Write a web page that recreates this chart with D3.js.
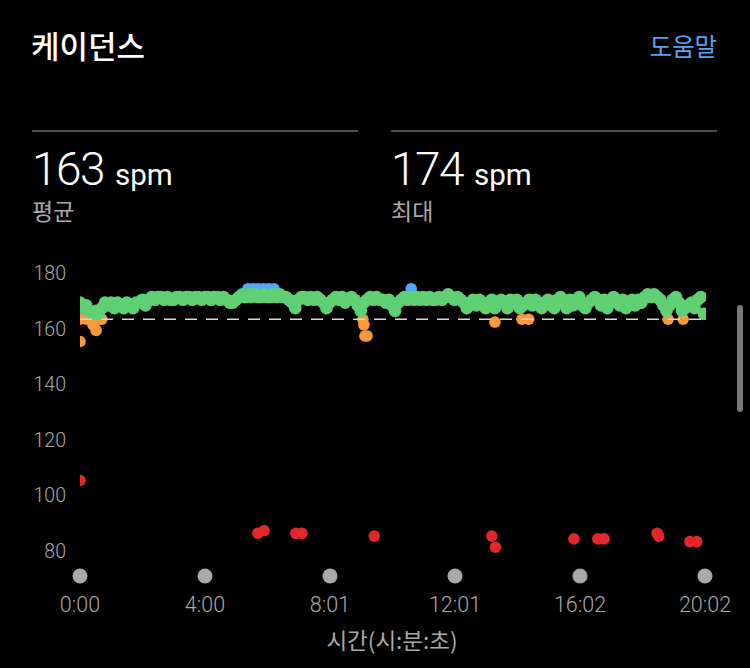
<!DOCTYPE html>
<html>
<head>
<meta charset="utf-8">
<script src="https://cdn.jsdelivr.net/npm/d3@7"></script>
<style>
  html, body { margin: 0; padding: 0; background: #000; }
  svg { display: block; }
</style>
</head>
<body>
<div id="chart"></div>
<script>
// cadence run, one reading every 6 s (0:00 .. 20:00)
var SAMPLE_SEC = 6
var cadence = [
  169,167,168,166,165,166,165,167,169,168,
  169,167,169,168,167,169,168,167,169,169,
  170,168,170,171,170,171,171,170,171,170,
  170,171,171,170,171,171,170,171,171,170,
  171,171,170,171,171,170,171,170,169,169,
  170,171,172,171,172,171,172,171,171,172,
  171,171,172,171,172,171,171,170,169,167,
  170,171,171,170,171,170,171,170,169,167,
  169,170,171,170,171,169,170,171,170,168,
  166,169,170,171,170,171,170,170,169,170,
  168,166,169,170,171,170,171,170,171,170,
  171,170,171,170,170,171,170,171,172,171,
  170,171,170,169,167,169,170,168,170,169,
  167,169,170,167,169,170,169,167,170,169,
  170,167,168,169,170,168,170,169,167,169,
  170,168,167,170,171,169,167,170,168,170,
  171,168,167,169,170,171,170,168,170,167,
  169,171,170,168,170,167,169,170,168,170,
  169,171,172,171,172,171,170,168,166,168,
  170,171,169,166,167,168,169,167,170,171,
  165
]

// readings off the main band: [seconds, spm]
var offBand = [
  [0, 105], [342, 86], [354, 87], [415, 86], [427, 86], [566, 85],
  [792, 85], [799, 81], [950, 84], [996, 84], [1008, 84],
  [1110, 86], [1113, 85], [1173, 83], [1186, 83],
  [0, 163], [0, 155], [12, 163], [25, 161], [31, 159], [29, 162], [42, 163],
  [544, 163], [546, 161], [548, 157], [552, 157], [798, 162],
  [850, 163], [863, 163], [1131, 163], [1160, 163],
  [323, 174], [333, 174], [343, 174], [353, 174], [363, 174], [373, 174], [637, 174]
]

var avgSpm = 163
var maxSpm = 174
var durationSec = 1202

var yTicks = [80, 100, 120, 140, 160, 180]
var xTickSec = [0, 240.4, 480.8, 721.2, 961.6, 1202]
var xTickLabels = ['0:00', '4:00', '8:01', '12:01', '16:02', '20:02']

// garmin cadence zones
var zoneStarts = [153, 164, 174]
var zoneColors = ['#e3262c', '#f99a3a', '#5fd074', '#53a7f6']

var W = 750, H = 668
var svg = d3.select('#chart').append('svg').attr('width', W).attr('height', H)
svg.append('rect').attr('width', W).attr('height', H).attr('fill', '#000')

var kr = '"Noto Sans CJK KR", "Noto Sans", sans-serif'
var num = 'Roboto, "Noto Sans", sans-serif'
var grey = '#a9a9a9'

// header
svg.append('text').attr('x', 31).attr('y', 58).text('케이던스')
  .attr('fill', '#fff').style('font-family', kr).style('font-size', '31px').style('font-weight', 500)
svg.append('text').attr('x', 717).attr('y', 56).attr('text-anchor', 'end').text('도움말')
  .attr('fill', '#5da2ea').style('font-family', kr).style('font-size', '24.5px')

// stat blocks
var stats = [
  {x: 32, value: avgSpm, label: '평균'},
  {x: 391, value: maxSpm, label: '최대'}
]
stats.forEach(function(s){
  svg.append('line').attr('x1', s.x).attr('x2', s.x + 326).attr('y1', 131).attr('y2', 131)
    .attr('stroke', '#4d4d4d').attr('stroke-width', 2)
  var t = svg.append('text').attr('x', s.x).attr('y', 185).attr('fill', '#fff').style('font-family', num)
  t.append('tspan').text(s.value).style('font-size', '46px').style('font-weight', 300).style('letter-spacing', '-1.5px')
  t.append('tspan').attr('dx', 11).text('spm').style('font-size', '29.5px').style('font-weight', 400)
  svg.append('text').attr('x', s.x).attr('y', 220).text(s.label)
    .attr('fill', grey).style('font-family', kr).style('font-size', '23px')
})

// scales
var x = d3.scaleLinear().domain([0, durationSec]).range([80, 705])
var y = d3.scaleLinear().domain([80, 180]).range([550, 272])
var color = d3.scaleThreshold().domain(zoneStarts).range(zoneColors)

// y labels
svg.append('g').selectAll('text').data(yTicks).join('text')
  .attr('x', 66).attr('y', function(d){ return y(d) + 1 })
  .attr('dy', '0.36em').attr('text-anchor', 'end')
  .attr('fill', grey).style('font-family', num).style('font-size', '19.5px').style('font-weight', 300)
  .text(function(d){ return d })

// x ticks: dots + labels
var xg = svg.append('g')
xg.selectAll('circle').data(xTickSec).join('circle')
  .attr('cx', function(d){ return x(d) }).attr('cy', 576).attr('r', 7.5).attr('fill', grey)
xg.selectAll('text').data(xTickSec).join('text')
  .attr('x', function(d){ return x(d) }).attr('y', 612).attr('text-anchor', 'middle')
  .attr('fill', grey).style('font-family', num).style('font-size', '21.5px').style('font-weight', 300)
  .text(function(d, i){ return xTickLabels[i] })
svg.append('text').attr('x', 392).attr('y', 649).attr('text-anchor', 'middle').text('시간(시:분:초)')
  .attr('fill', grey).style('font-family', kr).style('font-size', '22.5px')

// plot
svg.append('clipPath').attr('id', 'plot-clip').append('rect')
  .attr('x', x(0)).attr('y', 255).attr('width', x(durationSec) - x(0) + 1).attr('height', 310)
var plot = svg.append('g').attr('clip-path', 'url(#plot-clip)')

var mainRun = cadence.map(function(v, i){ return [i * SAMPLE_SEC, v] })

plot.append('g').selectAll('circle').data(offBand).join('circle')
  .attr('cx', function(d){ return x(d[0]) }).attr('cy', function(d){ return y(d[1]) })
  .attr('r', 5.8).attr('fill', function(d){ return color(d[1]) })

plot.append('g').selectAll('circle').data(mainRun).join('circle')
  .attr('cx', function(d){ return x(d[0]) }).attr('cy', function(d){ return y(d[1]) })
  .attr('r', 6.3).attr('fill', function(d){ return color(d[1]) })

// average line
plot.append('line').attr('x1', x(0)).attr('x2', x(durationSec))
  .attr('y1', y(avgSpm)).attr('y2', y(avgSpm))
  .attr('stroke', '#d8d8d8').attr('stroke-width', 1.5).attr('stroke-dasharray', '12,9')

// scrollbar
svg.append('rect').attr('x', 737).attr('y', 305).attr('width', 6).attr('height', 107).attr('rx', 3)
  .attr('fill', '#7a7a7a')
</script>
</body>
</html>
